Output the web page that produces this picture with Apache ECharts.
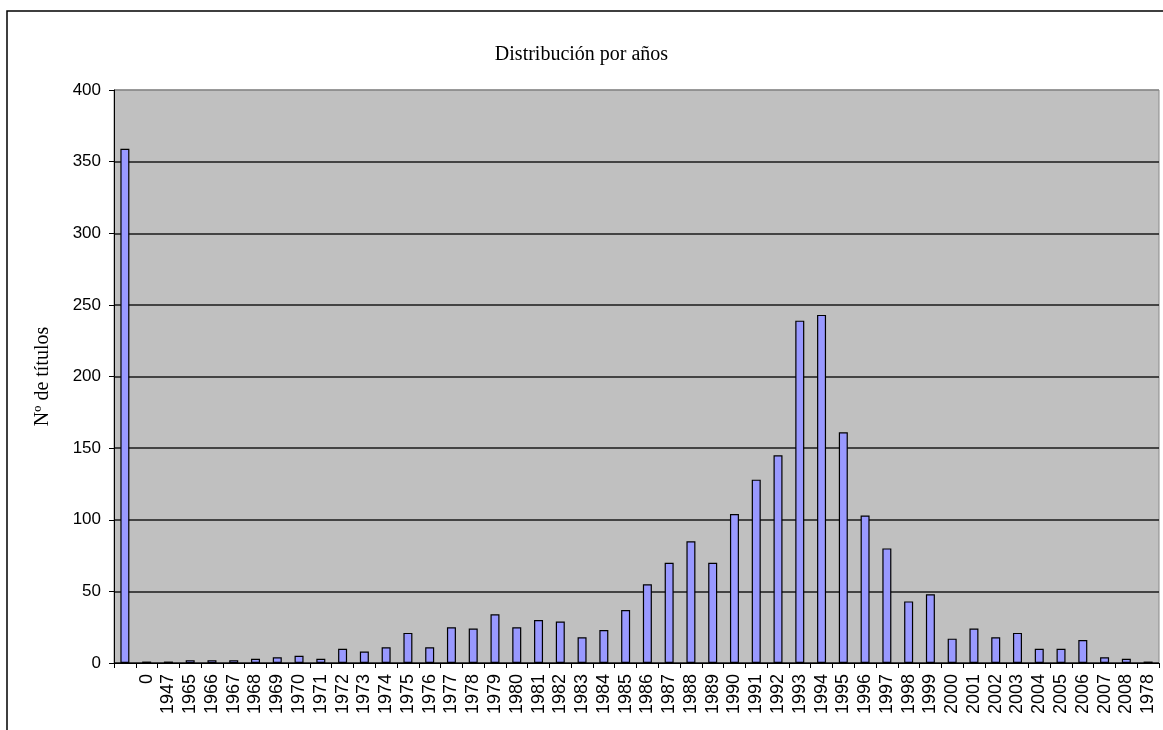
<!DOCTYPE html>
<html>
<head>
<meta charset="utf-8">
<script src="https://cdn.jsdelivr.net/npm/echarts@6/dist/echarts.min.js"></script>
<style>
html,body{margin:0;padding:0;background:#fff;}
#chart{width:1163px;height:730px;}
</style>
</head>
<body>
<div id="chart"></div>
<script>
const categories = ["", "0", "1947", "1965", "1966", "1967", "1968", "1969", "1970", "1971", "1972", "1973", "1974", "1975", "1976", "1977", "1978", "1979", "1980", "1981", "1982", "1983", "1984", "1985", "1986", "1987", "1988", "1989", "1990", "1991", "1992", "1993", "1994", "1995", "1996", "1997", "1998", "1999", "2000", "2001", "2002", "2003", "2004", "2005", "2006", "2007", "2008", "1978"];
const values = [359, 1, 1, 2, 2, 2, 3, 4, 5, 3, 10, 8, 11, 21, 11, 25, 24, 34, 25, 30, 29, 18, 23, 37, 55, 70, 85, 70, 104, 128, 145, 239, 243, 161, 103, 80, 43, 48, 17, 24, 18, 21, 10, 10, 16, 4, 3, 1];
const yTicks = { min: 0, max: 400, interval: 50 };
const titleText = "Distribución por años";
const yAxisName = "Nº de títulos";

const chart = echarts.init(document.getElementById('chart'));
const splitColors = [];
for (let v = yTicks.min; v <= yTicks.max; v += yTicks.interval) {
  splitColors.push(v === yTicks.max ? '#8a8a8a' : '#1a1a1a');
}
chart.setOption({
  animation: false,
  backgroundColor: '#ffffff',
  title: {
    text: titleText,
    left: 'center',
    top: 40,
    textStyle: { fontFamily: 'Liberation Serif', fontSize: 20, fontWeight: 'normal', color: '#000' }
  },
  graphic: [{
    type: 'rect',
    shape: { x: 7, y: 11, width: 2000, height: 2000 },
    style: { fill: 'none', stroke: '#000', lineWidth: 1.5 },
    silent: true
  }],
  grid: {
    left: 114, top: 90, width: 1045, height: 573,
    show: true, backgroundColor: '#c0c0c0', borderColor: '#8a8a8a', borderWidth: 1
  },
  xAxis: {
    type: 'category',
    data: categories,
    axisLine: { lineStyle: { color: '#000', width: 1 } },
    axisTick: { show: true, length: 5, lineStyle: { color: '#000' } },
    axisLabel: { rotate: 90, interval: 0, fontSize: 18, fontFamily: 'Liberation Sans', color: '#000', margin: 11 }
  },
  yAxis: {
    type: 'value',
    min: yTicks.min, max: yTicks.max, interval: yTicks.interval,
    name: yAxisName,
    nameLocation: 'middle',
    nameGap: 61,
    nameTextStyle: { fontFamily: 'Liberation Serif', fontSize: 20, color: '#000' },
    axisLine: { show: true, lineStyle: { color: '#000', width: 1 } },
    axisTick: { show: true, length: 5, lineStyle: { color: '#000' } },
    axisLabel: { fontSize: 17, fontFamily: 'Liberation Sans', color: '#000', margin: 13 },
    splitLine: { show: true, lineStyle: { color: splitColors, width: 1.5 } }
  },
  series: [{
    type: 'bar',
    data: values,
    barWidth: 9,
    itemStyle: { color: '#9999ff', borderColor: '#000', borderWidth: 1.2 }
  }]
});
</script>
</body>
</html>
